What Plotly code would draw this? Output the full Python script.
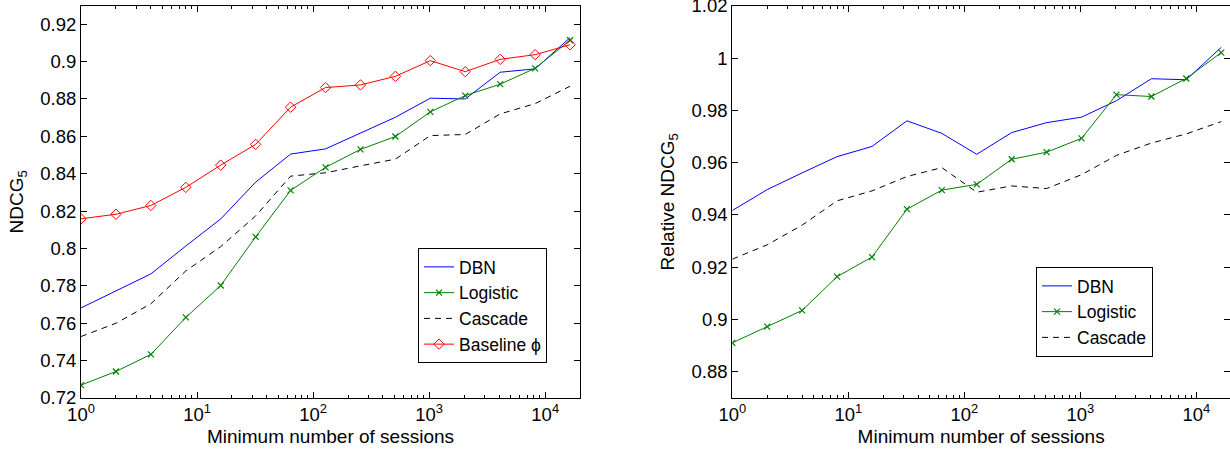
import plotly.graph_objects as go

# ---- data ----
sessions = [1, 2, 4, 8, 16, 32, 64, 128, 256, 512, 1024, 2048, 4096, 8192, 16384]

ndcg_dbn = [0.7682, 0.7773, 0.7864, 0.8013, 0.8158, 0.8355, 0.8505, 0.8533, 0.8619,
            0.8702, 0.8804, 0.8800, 0.8943, 0.8961, 0.9128]
ndcg_logistic = [0.7269, 0.7342, 0.7433, 0.7631, 0.7802, 0.8062, 0.8311, 0.8434, 0.8530,
                 0.8599, 0.8731, 0.8818, 0.8879, 0.8964, 0.9114]
ndcg_cascade = [0.7529, 0.7600, 0.7704, 0.7880, 0.8010, 0.8174, 0.8387, 0.8405, 0.8442,
                0.8478, 0.8604, 0.8610, 0.8720, 0.8775, 0.8868]
ndcg_baseline = [0.8159, 0.8183, 0.8230, 0.8327, 0.8446, 0.8557, 0.8756, 0.8861, 0.8875,
                 0.8921, 0.9005, 0.8946, 0.9012, 0.9037, 0.9090]

rel_dbn = [0.9417, 0.9497, 0.9561, 0.9623, 0.9662, 0.9760, 0.9712, 0.9632, 0.9715,
           0.9753, 0.9774, 0.9837, 0.9921, 0.9917, 1.0041]
rel_logistic = [0.8911, 0.8973, 0.9035, 0.9164, 0.9239, 0.9422, 0.9495, 0.9517, 0.9613,
                0.9640, 0.9693, 0.9860, 0.9853, 0.9922, 1.0021]
rel_cascade = [0.9231, 0.9286, 0.9361, 0.9454, 0.9492, 0.9547, 0.9581, 0.9487, 0.9511,
               0.9501, 0.9554, 0.9628, 0.9675, 0.9710, 0.9757]

x_tickvals = [1, 10, 100, 1000, 10000]
x_ticktext = ["10<sup>0</sup>", "10<sup>1</sup>", "10<sup>2</sup>", "10<sup>3</sup>", "10<sup>4</sup>"]
y1_tickvals = [0.72, 0.74, 0.76, 0.78, 0.80, 0.82, 0.84, 0.86, 0.88, 0.90, 0.92]
y1_ticktext = ["0.72", "0.74", "0.76", "0.78", "0.8", "0.82", "0.84", "0.86", "0.88", "0.9", "0.92"]
y2_tickvals = [0.88, 0.90, 0.92, 0.94, 0.96, 0.98, 1.00, 1.02]
y2_ticktext = ["0.88", "0.9", "0.92", "0.94", "0.96", "0.98", "1", "1.02"]

minor_x = [m * 10 ** d for d in range(5) for m in range(2, 10) if m * 10 ** d < 19900]

FONT = "Liberation Sans, Arial, Helvetica, sans-serif"
BLUE, GREEN, RED = "#0000ff", "#008000", "#ff0000"

W, H = 1230, 449


def fx(px):
    return px / W


def fy(py):
    return 1 - py / H


fig = go.Figure()


def add(x, y, name, color, xa, ya, legend, dash="solid", marker=None):
    kw = dict(x=x, y=y, name=name, xaxis=xa, yaxis=ya, legend=legend,
              line=dict(color=color, width=1, dash=dash))
    if marker is None:
        kw["mode"] = "lines"
    else:
        kw["mode"] = "lines+markers"
        kw["marker"] = marker
    fig.add_trace(go.Scatter(**kw))


xmark = dict(symbol="x-thin", size=6, line=dict(width=1.2, color=GREEN), color=GREEN)
dmark = dict(symbol="diamond-open", size=8, line=dict(width=1, color=RED), color=RED)

add(sessions, ndcg_dbn, "DBN", BLUE, "x", "y", "legend")
add(sessions, ndcg_logistic, "Logistic", GREEN, "x", "y", "legend", marker=xmark)
add(sessions, ndcg_cascade, "Cascade", "black", "x", "y", "legend", dash="6px,5px")
add(sessions, ndcg_baseline, "Baseline ϕ", RED, "x", "y", "legend", marker=dmark)

add(sessions, rel_dbn, "DBN", BLUE, "x2", "y2", "legend2")
add(sessions, rel_logistic, "Logistic", GREEN, "x2", "y2", "legend2", marker=xmark)
add(sessions, rel_cascade, "Cascade", "black", "x2", "y2", "legend2", dash="6px,5px")


def xax(domain, anchor, rmax):
    return dict(type="log", range=[0, rmax], domain=domain, anchor=anchor,
                tickvals=x_tickvals, ticktext=x_ticktext, ticks="inside", ticklen=6,
                tickcolor="black", showline=True, linecolor="black", linewidth=1,
                mirror="ticks", showgrid=False, zeroline=False,
                minor=dict(tickvals=minor_x, ticks="inside", ticklen=3, tickcolor="black"),
                title=dict(text="Minimum number of sessions", standoff=5,
                           font=dict(size=19, color="black")),
                tickfont=dict(size=18.5, color="black"), automargin=False)


def yax(domain, anchor, rng, tv, tt, title):
    return dict(range=rng, domain=domain, anchor=anchor, tickvals=tv, ticktext=tt,
                ticks="inside", ticklen=6, tickcolor="black", showline=True,
                linecolor="black", linewidth=1, mirror="ticks", showgrid=False,
                zeroline=False, title=dict(text=title, standoff=11,
                                           font=dict(size=19, color="black")),
                tickfont=dict(size=18.5, color="black"), automargin=False,
                ticklabeloverflow="allow")


ydom = [fy(398), fy(5.5)]
fig.update_layout(
    width=W, height=H,
    margin=dict(l=0, r=0, t=0, b=0),
    paper_bgcolor="white", plot_bgcolor="white",
    font=dict(family=FONT, size=18, color="black"),
    xaxis=xax([fx(81), fx(580)], "y", 4.3),
    yaxis=yax(ydom, "x", [0.72, 0.93], y1_tickvals, y1_ticktext, "NDCG<sub>5</sub>"),
    xaxis2=xax([fx(732.3), 1.0], "y2", 4.29),
    yaxis2=yax(ydom, "x2", [0.87, 1.0201], y2_tickvals, y2_ticktext, "Relative NDCG<sub>5</sub>"),
    legend=dict(x=fx(418), y=fy(248), xanchor="left", yanchor="top",
                bordercolor="black", borderwidth=1, bgcolor="white",
                font=dict(size=17.5), tracegroupgap=0, itemwidth=30),
    legend2=dict(x=fx(1036), y=fy(267), xanchor="left", yanchor="top",
                 bordercolor="black", borderwidth=1, bgcolor="white",
                 font=dict(size=17.5), tracegroupgap=0, itemwidth=30),
    showlegend=True,
)

fig.write_html("out.html", config={"displayModeBar": False},
               post_script="document.body.style.margin='0';")
